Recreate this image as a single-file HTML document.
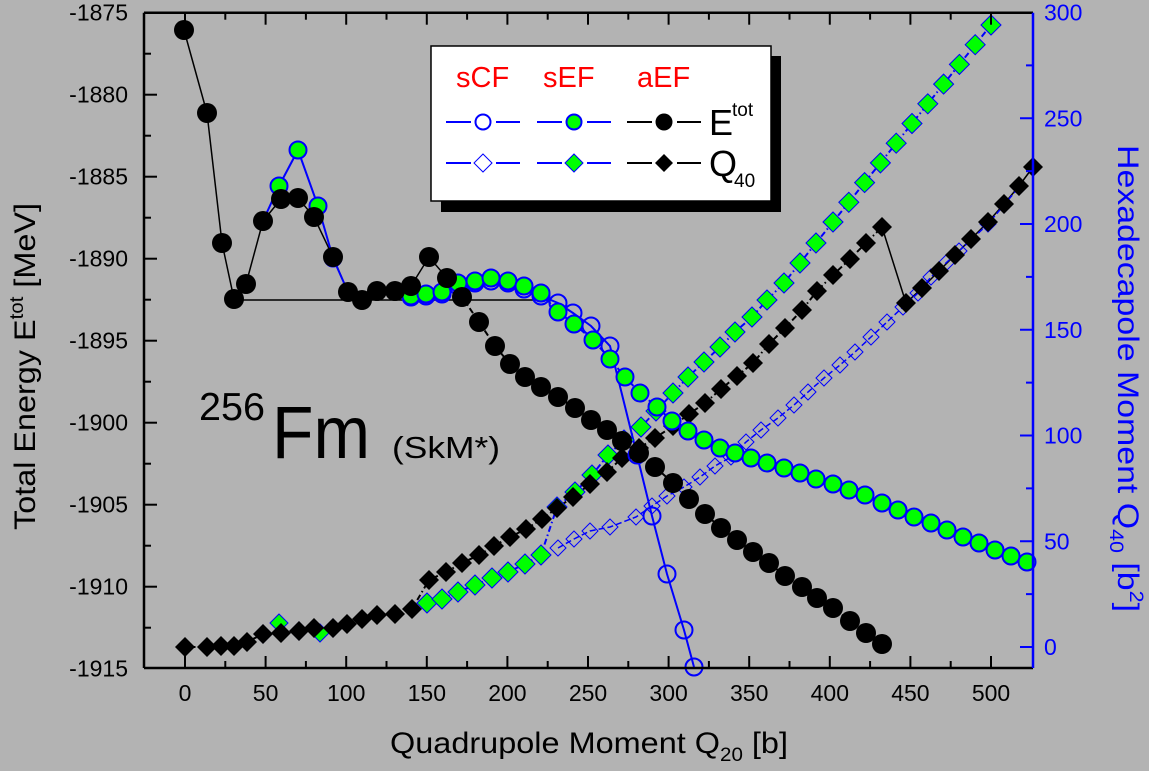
<!DOCTYPE html>
<html><head><meta charset="utf-8"><style>
html,body{margin:0;padding:0;background:#b3b3b3;}
svg{display:block;font-family:"Liberation Sans",Arial,sans-serif;}
</style></head><body>
<svg id="s" width="1149" height="771" viewBox="0 0 1149 771" xmlns="http://www.w3.org/2000/svg">
<rect width="1149" height="771" fill="#b3b3b3"/>
<g id="plot"></g>
<line x1="144" y1="12.7" x2="1033" y2="12.7" stroke="#000" stroke-width="2.5"/>
<line x1="144" y1="668" x2="1033" y2="668" stroke="#000" stroke-width="2.5"/>
<line x1="144" y1="12.7" x2="144" y2="668" stroke="#000" stroke-width="2.5"/>
<line x1="1033" y1="12.7" x2="1033" y2="668" stroke="#0000ff" stroke-width="2.5"/>
<g id="ticks"></g>
<text x="199" y="420" font-size="39" textLength="66" lengthAdjust="spacingAndGlyphs">256</text>
<text x="272" y="458" font-size="74" textLength="98" lengthAdjust="spacingAndGlyphs">Fm</text>
<text x="392" y="458" font-size="31" textLength="108" lengthAdjust="spacingAndGlyphs">(SkM*)</text>
<rect x="441" y="56" width="340" height="156" fill="#000"/>
<rect x="431" y="46" width="340" height="155" fill="#fff" stroke="#000" stroke-width="1.5"/>
<g font-size="29" fill="#ff0000">
<text x="456" y="87">sCF</text><text x="543" y="87">sEF</text><text x="637" y="87">aEF</text>
</g>
<g stroke-width="2">
<line x1="446" y1="122" x2="471" y2="122" stroke="#00f"/><line x1="496" y1="122" x2="520" y2="122" stroke="#00f"/>
<line x1="537" y1="122" x2="562" y2="122" stroke="#00f"/><line x1="587" y1="122" x2="611" y2="122" stroke="#00f"/>
<line x1="627" y1="122" x2="652" y2="122" stroke="#000"/><line x1="677" y1="122" x2="701" y2="122" stroke="#000"/>
<line x1="446" y1="163" x2="471" y2="163" stroke="#00f"/><line x1="496" y1="163" x2="520" y2="163" stroke="#00f"/>
<line x1="537" y1="163" x2="562" y2="163" stroke="#00f"/><line x1="587" y1="163" x2="611" y2="163" stroke="#00f"/>
<line x1="627" y1="163" x2="652" y2="163" stroke="#000"/><line x1="677" y1="163" x2="701" y2="163" stroke="#000"/>
</g>
<circle cx="483" cy="122" r="7.5" fill="#fff" stroke="#00f" stroke-width="2"/>
<circle cx="574" cy="122" r="7.5" fill="#0f0" stroke="#00f" stroke-width="2"/>
<circle cx="664" cy="122" r="8.5" fill="#000"/>
<path d="M483 154 L492 163 L483 172 L474 163Z" fill="#fff" stroke="#00f" stroke-width="1"/>
<path d="M574 154 L583 163 L574 172 L565 163Z" fill="#0f0" stroke="#00f" stroke-width="1"/>
<path d="M664 154 L673 163 L664 172 L655 163Z" fill="#000"/>
<text x="709" y="135" font-size="36">E</text><text x="732" y="116" font-size="19">tot</text>
<text x="709" y="176" font-size="36">Q</text><text x="734" y="187" font-size="19">40</text>
<text x="390" y="753" font-size="30" textLength="398" lengthAdjust="spacingAndGlyphs">Quadrupole Moment Q<tspan font-size="19" dy="8">20</tspan><tspan dy="-8"> [b]</tspan></text>
<text transform="translate(35,530) rotate(-90)" font-size="30" textLength="327" lengthAdjust="spacingAndGlyphs">Total Energy E<tspan font-size="19" dy="-12">tot</tspan><tspan dy="12"> [MeV]</tspan></text>
<text transform="translate(1118,145) rotate(90)" font-size="30" fill="#0000ff" textLength="467" lengthAdjust="spacingAndGlyphs">Hexadecapole Moment Q<tspan font-size="19" dy="8">40</tspan><tspan dy="-8"> [b</tspan><tspan font-size="19" dy="-12">2</tspan><tspan dy="12">]</tspan></text>
</svg>
<script>
var NS="http://www.w3.org/2000/svg",P=document.getElementById("plot"),T=document.getElementById("ticks");
function el(p,n,a){var e=document.createElementNS(NS,n);for(var k in a)e.setAttribute(k,a[k]);p.appendChild(e);return e;}
function line(pts,col,dash,w){el(P,"polyline",{points:pts.map(function(p){return p.join(",")}).join(" "),fill:"none",stroke:col,"stroke-width":w||1.5,"stroke-dasharray":dash||""});}
function circ(pts,fill,stroke,r){pts.forEach(function(p){el(P,"circle",{cx:p[0],cy:p[1],r:r,fill:fill,stroke:stroke,"stroke-width":stroke=="none"?0:2});});}
function diam(pts,fill,stroke,r){pts.forEach(function(p){var x=p[0],y=p[1];el(P,"path",{d:"M"+x+" "+(y-r)+"L"+(x+r)+" "+y+"L"+x+" "+(y+r)+"L"+(x-r)+" "+y+"Z",fill:fill,stroke:stroke,"stroke-width":stroke=="none"?0:1});});}
function text(p,x,y,s,a,c,sz){var t=el(p,"text",{x:x,y:y,"text-anchor":a,fill:c||"#000","font-size":sz||23});t.textContent=s;}
for(var q=-25;q<=525;q+=25){var x=185+q*1.612;if(x<146||x>1031)continue;var L=(q%50==0)?12:7;
 el(T,"line",{x1:x,y1:668,x2:x,y2:668-L,stroke:"#000","stroke-width":2});el(T,"line",{x1:x,y1:12.7,x2:x,y2:12.7+L,stroke:"#000","stroke-width":2});
 if(q%50==0&&q>=0)text(T,x,701,String(q),"middle");}
for(var e=0;e<=40;e+=2.5){var y=12.7+e*16.4;var L=(e%5==0)?13:7;
 if(e>0&&e<40)el(T,"line",{x1:144,y1:y,x2:144+L,y2:y,stroke:"#000","stroke-width":2});
 if(e%5==0)text(T,128,y+8,String(-1875-e),"end");}
for(var r=0;r<=300;r+=25){var y=647-r*2.115;var L=(r%50==0)?13:7;
 if(r<300)el(T,"line",{x1:1033,y1:y,x2:1033-L,y2:y,stroke:"#00f","stroke-width":2});
 if(r%50==0)text(T,1044,y+8,String(r),"start","#0000ff");}
var bE1=[[184,30],[207,113],[222,243],[234,299],[246,284],[263,221],[281,199],[298,198],[314,217],[333,257],[348,292],[362,300],[377,291],[395,291],[411,286],[429,257],[447,278],[462,297]];
var bE2=[[479,322],[495,346],[510,364],[525,377],[541,387],[558,397],[575,408],[591,420],[607,430],[622,441],[639,453],[655,467],[673,483],[689,499],[705,514],[721,528],[737,540],[753,552],[769,563],[785,576],[802,587],[817,598],[833,608],[850,621],[866,633],[882,644]];
var gE0=[[263,221],[279,186],[298,150],[318,206],[333,258],[348,292]];
var gE=[[411,296],[426,294],[442,292],[458,283],[475,281],[491,278],[508,281],[524,286],[541,293],[558,312],[574,324],[593,340],[610,359],[625,377],[640,393],[657,407],[672,421],[688,431],[704,440],[720,448],[735,453],[751,458],[767,463],[784,468],[800,473],[816,479],[833,484],[849,490],[865,495],[882,503],[898,510],[914,517],[931,523],[947,530],[963,537],[979,543],[995,550],[1011,556],[1027,562]];
var oE=[[411,297],[426,296],[442,294],[458,286],[475,283],[491,281],[508,283],[524,289],[541,296],[558,303],[573,313],[591,326],[610,346],[637,455],[652,516],[667,574],[684,630],[694,667]];
var bQ=[[185,647],[207,647],[221,646],[234,646],[247,642],[263,634],[281,633],[299,631],[314,628],[333,628],[347,624],[362,619],[377,615],[395,614],[412,609],[429,580],[446,572],[462,563],[479,555],[494,546],[510,537],[526,529],[542,519],[557,508],[573,497],[590,484],[607,472],[622,458],[639,448],[655,438],[673,426],[689,414],[705,403],[721,389],[737,376],[753,363],[769,344],[785,328],[802,310],[817,291],[833,275],[850,259],[866,243],[882,227]];
var bQ2=[[906,303],[922,288],[939,271],[955,255],[971,239],[988,222],[1004,204],[1019,186],[1033,167]];
var gQ0=[[263,634],[279,623],[299,631],[320,633],[333,628]];
var gQ=[[427,603],[442,599],[458,592],[475,585],[492,578],[508,572],[525,564],[541,555],[557,507],[575,492],[592,475],[608,455],[624,440],[641,427],[656,411],[673,393],[688,377],[704,362],[720,347],[735,332],[752,317],[767,300],[784,283],[800,263],[816,243],[833,222]];
for(var i=1;i<=10;i++)gQ.push([833+i*15.8,222-i*19.7]);
var oQ=[[558,548],[574,539],[590,531],[610,527],[636,517],[652,506],[667,496],[684,487],[700,477],[715,466],[731,457],[746,442],[761,430],[778,418],[794,405],[808,392],[824,378],[840,365],[855,352],[871,337],[887,322],[903,307],[918,293],[931,277],[947,262],[959,251],[971,240],[988,224],[1004,205],[1019,187]];
line([[234,300],[548,300]],"#000","",1.5);
line(bE1,"#000","",1.5);line([bE1[bE1.length-1]].concat(bE2),"#000","6,3,1.5,3",2);
line(gE0,"#00f","",2);line(gE,"#00f","6,3",2);line(oE,"#00f","",2);
line(bQ,"#000","6,3,1.5,3",2);line([bQ[bQ.length-1]].concat(bQ2),"#000","",1.5);
line(oQ,"#00f","6,3",1.5);line(gQ,"#00f","6,3,1.5,3",2);
diam(oQ,"none","#00f",8);
diam(gQ0,"#0f0","#00f",9);diam(gQ,"#0f0","#00f",10);
diam(bQ,"#000","none",10);diam(bQ2,"#000","none",10);
circ(oE,"none","#00f",8.5);
circ(gE0,"#0f0","#00f",8.5);circ(gE,"#0f0","#00f",8.5);
circ(bE1,"#000","none",10);circ(bE2,"#000","none",10);
</script>
</body></html>
